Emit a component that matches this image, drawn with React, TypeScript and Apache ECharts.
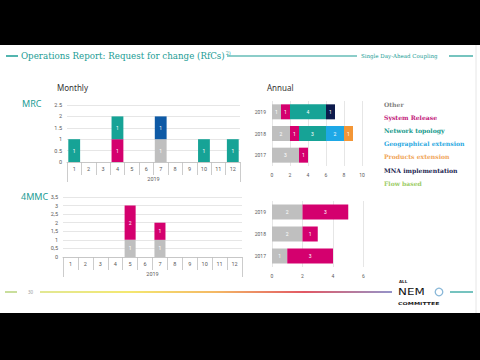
import React, { useEffect, useRef } from "react";
import * as echarts from "echarts";

const months = ["1", "2", "3", "4", "5", "6", "7", "8", "9", "10", "11", "12"];
const yearGroup = ["2019"];
const years = ["2017", "2018", "2019"];

// MRC monthly (2019)
const mrcOther = [null, null, null, null, null, null, 1, null, null, null, null, null];
const mrcSystemRelease = [null, null, null, 1, null, null, null, null, null, null, null, null];
const mrcNetwork = [1, null, null, 1, null, null, null, null, null, 1, null, 1];
const mrcMna = [null, null, null, null, null, null, 1, null, null, null, null, null];

// 4MMC monthly (2019)
const mmcOther = [null, null, null, null, 1, null, 1, null, null, null, null, null];
const mmcSystemRelease = [null, null, null, null, 2, null, 1, null, null, null, null, null];

// MRC annual (2017, 2018, 2019)
const annMrcOther = [3, 2, 1];
const annMrcSystemRelease = [1, 1, 1];
const annMrcNetwork = [null, 3, 4];
const annMrcGeo = [null, 2, null];
const annMrcProducts = [null, 1, null];
const annMrcMna = [null, null, 1];

// 4MMC annual
const ann4Other = [1, 2, 2];
const ann4SystemRelease = [3, 1, 3];

const legendNames = [
  "Other",
  "System Release",
  "Network topology",
  "Geographical extension",
  "Products extension",
  "MNA implementation",
  "Flow based",
];
const legendColors = ["#7f7f7f", "#c2187a", "#169a8c", "#2aa9df", "#f0a55a", "#1b2550", "#9ccc65"];

const C_OTHER = "#bfbfbf";
const C_SR = "#d4006e";
const C_NT = "#16a396";
const C_GEO = "#1ea8e6";
const C_PROD = "#f39636";
const C_MNA_M = "#0e5aa6";
const C_MNA_A = "#0d1b4c";

const AX = "#595959";
const GRIDC = "#e0e0e0";

export default function App() {
  const ref = useRef<HTMLDivElement>(null);
  useEffect(() => {
    if (!ref.current) return;
    const chart = echarts.init(ref.current, null, { renderer: "svg" });

    const barLabel = { show: true, color: "#fff", fontSize: 5, fontFamily: "Roboto" };
    const monthX = (gi: number) => ({
      type: "category",
      gridIndex: gi,
      data: months,
      axisLine: { show: true, lineStyle: { color: "#bfbfbf", width: 0.8 } },
      axisTick: { show: true, length: 13, lineStyle: { color: "#bfbfbf", width: 0.8 } },
      axisLabel: { fontSize: 5.5, color: AX, margin: 4, fontFamily: "Roboto" },
    });
    const groupX = (gi: number) => ({
      type: "category",
      gridIndex: gi,
      data: yearGroup,
      position: "bottom",
      offset: 13,
      axisLine: { show: false },
      axisTick: { show: true, length: 7, lineStyle: { color: "#bfbfbf", width: 0.8 } },
      axisLabel: { fontSize: 5.5, color: AX, margin: 1, fontFamily: "Roboto" },
    });
    const monthY = (gi: number, max: number, sep: string) => ({
      type: "value",
      gridIndex: gi,
      min: 0,
      max,
      interval: 0.5,
      axisLine: { show: false },
      axisTick: { show: false },
      splitLine: { lineStyle: { color: GRIDC, width: 0.8 } },
      axisLabel: {
        fontSize: 5.5,
        color: AX,
        margin: 5,
        fontFamily: "Roboto",
        formatter: (v: number) => String(v).replace(".", sep),
      },
    });
    const annX = (gi: number, max: number) => ({
      type: "value",
      gridIndex: gi,
      min: 0,
      max,
      interval: 2,
      axisLine: { show: false },
      axisTick: { show: false },
      splitLine: { lineStyle: { color: GRIDC, width: 0.8 } },
      axisLabel: { fontSize: 5, color: AX, margin: 6, fontFamily: "Roboto" },
    });
    const annY = (gi: number) => ({
      type: "category",
      gridIndex: gi,
      data: years,
      axisLine: { show: false },
      axisTick: { show: false },
      axisLabel: { fontSize: 5, color: AX, margin: 6, fontFamily: "Roboto" },
    });

    const bar = (
      data: (number | null)[],
      color: string,
      xi: number,
      yi: number,
      stack: string,
      width: number | string
    ) => ({
      type: "bar",
      data,
      stack,
      xAxisIndex: xi,
      yAxisIndex: yi,
      barWidth: width,
      itemStyle: { color },
      label: barLabel,
    });

    const titleFont = "DejaVu Serif";
    const graphics: any[] = [
      { type: "rect", shape: { x: 0, y: 0, width: 480, height: 45 }, style: { fill: "#000" }, silent: true },
      { type: "rect", shape: { x: 0, y: 313, width: 480, height: 47 }, style: { fill: "#000" }, silent: true },
      { type: "line", shape: { x1: 476, y1: 45, x2: 476, y2: 313 }, style: { stroke: "#e6e6e6", lineWidth: 1 } },
      // header
      { type: "line", shape: { x1: 6, y1: 56, x2: 18, y2: 56 }, style: { stroke: "#1a9c94", lineWidth: 1.5 } },
      {
        type: "text",
        x: 21,
        y: 56,
        style: {
          text: "{t|Operations Report: Request for change (RfCs)}{s|2)}",
          fill: "#1a9c94",
          textVerticalAlign: "middle",
          rich: {
            t: { fontSize: 8.7, fontFamily: titleFont, fill: "#1a9c94" },
            s: { fontSize: 5, fontFamily: titleFont, fill: "#1a9c94", padding: [0, 0, 6, 1] },
          },
        },
      },
      { type: "line", shape: { x1: 227, y1: 56, x2: 357, y2: 56 }, style: { stroke: "#1a9c94", lineWidth: 1.2 } },
      {
        type: "text",
        x: 361,
        y: 56,
        style: {
          text: "Single Day-Ahead Coupling",
          fill: "#1a9c94",
          font: `5.5px '${titleFont}'`,
          textVerticalAlign: "middle",
        },
      },
      { type: "line", shape: { x1: 449, y1: 56, x2: 473, y2: 56 }, style: { stroke: "#1a9c94", lineWidth: 1.2 } },
      // section labels
      {
        type: "text",
        x: 57,
        y: 87,
        style: { text: "Monthly", fill: "#333", font: "8px 'Noto Sans'", textVerticalAlign: "middle" },
      },
      {
        type: "text",
        x: 267,
        y: 87,
        style: { text: "Annual", fill: "#333", font: "8px 'Noto Sans'", textVerticalAlign: "middle" },
      },
      {
        type: "text",
        x: 22,
        y: 103,
        style: { text: "MRC", fill: "#1a9c94", font: "9px 'Noto Sans'", textVerticalAlign: "middle" },
      },
      {
        type: "text",
        x: 21,
        y: 196,
        style: { text: "4MMC", fill: "#1a9c94", font: "9px 'Noto Sans'", textVerticalAlign: "middle" },
      },
      // footer
      { type: "line", shape: { x1: 5, y1: 292, x2: 17, y2: 292 }, style: { stroke: "#a5c85a", lineWidth: 1.2 } },
      {
        type: "text",
        x: 28,
        y: 292,
        style: { text: "30", fill: "#999", font: "4.5px 'Noto Sans'", textVerticalAlign: "middle" },
      },
      {
        type: "rect",
        shape: { x: 40, y: 291.3, width: 352, height: 1.4 },
        style: {
          fill: new echarts.graphic.LinearGradient(0, 0, 1, 0, [
            { offset: 0, color: "#d8e070" },
            { offset: 0.25, color: "#f0e040" },
            { offset: 0.5, color: "#f0a030" },
            { offset: 0.75, color: "#d82030" },
            { offset: 1, color: "#7070b8" },
          ]),
        },
      },
      { type: "line", shape: { x1: 450, y1: 292, x2: 473, y2: 292 }, style: { stroke: "#1a9c94", lineWidth: 1.2 } },
      {
        type: "text",
        x: 399,
        y: 281,
        style: { text: "ALL", fill: "#222", font: "bold 4px 'DejaVu Sans'", textVerticalAlign: "middle" },
      },
      {
        type: "text",
        x: 398,
        y: 292,
        scaleX: 1.25,
        style: { text: "NEM", fill: "#111", font: "9.5px 'DejaVu Sans'", textVerticalAlign: "middle" },
      },
      {
        type: "circle",
        shape: { cx: 439, cy: 292, r: 3.8 },
        style: { fill: "none", stroke: "#8ab8d8", lineWidth: 1.3 },
      },
      {
        type: "text",
        x: 398,
        y: 303,
        scaleX: 1.55,
        style: { text: "COMMITTEE", fill: "#222", font: "bold 4px 'DejaVu Sans'", textVerticalAlign: "middle" },
      },
    ];
    legendNames.forEach((n, i) => {
      graphics.push({
        type: "text",
        x: 384,
        y: 104 + i * 13.2,
        style: {
          text: n,
          fill: legendColors[i],
          font: `bold 6.1px '${titleFont}'`,
          textVerticalAlign: "middle",
        },
      });
    });

    chart.setOption({
      animation: false,
      backgroundColor: "#fff",
      grid: [
        { left: 67, top: 105, width: 173, height: 57 },
        { left: 63, top: 197, width: 179, height: 60 },
        { left: 272, top: 101, width: 90, height: 65 },
        { left: 272, top: 201, width: 91.5, height: 66 },
      ],
      xAxis: [monthX(0), groupX(0), monthX(1), groupX(1), annX(2, 10), annX(3, 6)],
      yAxis: [monthY(0, 2.5, "."), monthY(1, 3.5, ","), annY(2), annY(3)],
      series: [
        bar(mrcOther, C_OTHER, 0, 0, "m1", "82%"),
        bar(mrcSystemRelease, C_SR, 0, 0, "m1", "82%"),
        bar(mrcNetwork, C_NT, 0, 0, "m1", "82%"),
        bar(mrcMna, C_MNA_M, 0, 0, "m1", "82%"),
        bar(mmcOther, C_OTHER, 2, 1, "m2", "74%"),
        bar(mmcSystemRelease, C_SR, 2, 1, "m2", "74%"),
        bar(annMrcOther, C_OTHER, 4, 2, "a1", 15),
        bar(annMrcSystemRelease, C_SR, 4, 2, "a1", 15),
        bar(annMrcNetwork, C_NT, 4, 2, "a1", 15),
        bar(annMrcGeo, C_GEO, 4, 2, "a1", 15),
        bar(annMrcProducts, C_PROD, 4, 2, "a1", 15),
        bar(annMrcMna, C_MNA_A, 4, 2, "a1", 15),
        bar(ann4Other, C_OTHER, 5, 3, "a2", 15),
        bar(ann4SystemRelease, C_SR, 5, 3, "a2", 15),
      ],
      graphic: graphics,
    });
    return () => chart.dispose();
  }, []);
  return <div ref={ref} style={{ position: "fixed", left: 0, top: 0, width: 480, height: 360 }} />;
}
